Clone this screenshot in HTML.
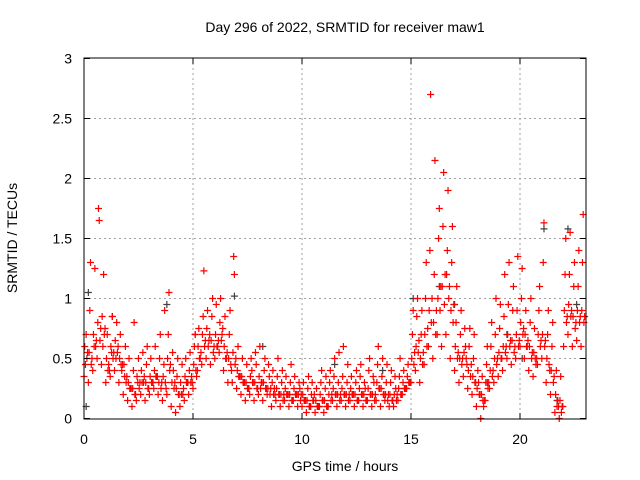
<!DOCTYPE html>
<html><head><meta charset="utf-8"><style>
body{margin:0;background:#fff;}
svg{display:block;font-family:"Liberation Sans",sans-serif;}
</style></head><body>
<svg id="chart" width="640" height="480" viewBox="0 0 640 480" xmlns="http://www.w3.org/2000/svg">
<rect width="640" height="480" fill="#fff"/>
<text x="345" y="32" font-size="14" text-anchor="middle">Day 296 of 2022, SRMTID for receiver maw1</text>
<g id="grid"></g>
<g id="points"></g>
<rect x="84" y="58" width="502" height="361" fill="none" stroke="#000" stroke-width="1"/>
<g id="ticks"></g>
<text x="345" y="471" font-size="14" text-anchor="middle">GPS time / hours</text>
<text x="0" y="0" font-size="14" text-anchor="middle" transform="translate(17,238) rotate(-90)">SRMTID / TECUs</text>
</svg>
<script>
const xTicks=[0,5,10,15,20];
const yTicks=[0,0.5,1,1.5,2,2.5,3];
const yTickLabels=["0","0.5","1","1.5","2","2.5","3"];
const binStart=0, binStep=0.2;
const seriesA=[.35,.3,.4,.5,.45,.3,.35,.4,.3,.2,.15,.1,.15,.2,.15,.2,.25,.2,.15,.2,.1,.05,.1,.15,.2,.25,.4,.45,.5,.45,.5,.55,.4,.3,.3,.25,.2,.15,.2,.15,.2,.15,.2,.1,.15,.1,.15,.1,.15,.1,.1,.05,.1,.05,.1,.05,.1,.15,.1,.15,.1,.15,.1,.15,.1,.15,.1,.15,.1,.15,.1,.1,.15,.2,.25,.3,.4,.3,.45,.6,.5,.7,.6,.7,.5,.4,.3,.35,.25,.2,.1,.0,.15,.25,.3,.35,.4,.5,.45,.5,.6,.5,.4,.35,.45,.5,.3,.2,.05,.0,.6,.7,.6,.65,.6];
const seriesB=[.6,.55,.7,.8,.85,.5,.6,.65,.5,.45,.3,.25,.35,.4,.3,.35,.4,.3,.35,.5,.3,.25,.3,.35,.4,.45,.6,.7,.75,.65,.7,.8,.6,.5,.55,.4,.35,.3,.35,.3,.35,.3,.25,.3,.25,.2,.25,.2,.25,.2,.2,.15,.2,.15,.2,.15,.2,.25,.2,.25,.2,.25,.2,.25,.2,.25,.2,.3,.25,.2,.2,.2,.25,.3,.35,.5,.6,.5,.7,.9,.8,1.0,1.1,1.2,.9,.6,.5,.55,.4,.35,.25,.2,.3,.4,.5,.55,.6,.7,.65,.7,.8,.7,.6,.55,.7,.7,.5,.4,.2,.15,.9,.95,.85,.9,.9];
const seriesC=[.45,.9,.6,1.75,.6,.7,.55,.5,.7,.35,.5,.4,.3,.3,.45,.5,.6,.5,.45,.7,.55,.35,.2,.5,.55,.6,.75,.85,.9,.85,.95,1.0,.85,.7,1.35,.6,.5,.45,.5,.55,.6,.4,.45,.4,.35,.3,.35,.3,.35,.3,.3,.25,.3,.25,.3,.25,.3,.35,.3,.35,.3,.35,.3,.35,.3,.4,.35,.45,.35,.3,.3,.35,.35,.4,.45,.7,.85,.7,1.0,1.4,1.2,1.5,1.6,1.4,1.3,.8,.7,.75,.6,.5,.4,.35,.45,.6,.7,.75,.85,.95,.9,.9,1.0,.9,.8,.75,.9,1.3,.7,.6,.4,.35,1.2,1.2,1.1,1.1,1.3];
const seriesD=[.7,1.3,1.25,1.65,1.2,.4,.85,.8,.45,.6,.25,.8,.5,.55,.6,.3,.35,.7,.9,1.05,.4,.5,.45,.3,.3,.7,.5,1.23,.6,1.0,.6,.65,.5,.9,1.2,.35,.3,.25,.4,.45,.25,.5,.35,.2,.5,.4,.2,.45,.2,.25,.15,.35,.15,.1,.4,.35,.4,.5,.55,.6,.45,.2,.4,.45,.25,.5,.3,.6,.5,.45,.4,.25,.5,.25,.3,.9,1.0,.9,1.3,2.7,2.15,1.75,2.05,1.9,1.6,1.1,.9,.6,.75,.7,.3,.15,.6,.8,1.0,.95,1.2,1.3,1.1,1.35,1.25,.6,1.0,.5,1.1,1.63,.9,.8,.1,.05,1.5,1.55,1.3,1.4,1.7];
const seriesE=[.5,.45,.6,.65,.7,.45,.5,.55,.4,.3,.25,.2,.25,.3,.25,.3,.35,.25,.3,.4,.25,.2,.2,.3,.35,.4,.5,.6,.65,.55,.6,.7,.5,.45,.45,.35,.3,.25,.3,.25,.3,.25,.2,.25,.2,.15,.2,.15,.2,.15,.15,.1,.15,.1,.15,.1,.15,.2,.15,.2,.15,.2,.15,.2,.15,.2,.15,.25,.2,.15,.15,.15,.2,.25,.3,.45,.55,.45,.6,.8,.7,.9,.95,1.0,.8,.5,.45,.5,.35,.3,.2,.1,.25,.35,.45,.5,.55,.6,.55,.6,.7,.6,.5,.45,.6,.6,.45,.3,.15,.1,.8,.85,.75,.8,.8];
const seriesF=[.55,.5,.65,.75,.75,.4,.55,.6,.45,.35,.25,.2,.3,.35,.25,.3,.35,.3,.25,.45,.3,.2,.25,.3,.3,.35,.55,.65,.7,.6,.65,.75,.55,.4,.5,.35,.3,.25,.3,.25,.3,.25,.25,.2,.2,.2,.2,.15,.2,.2,.15,.1,.2,.1,.15,.1,.2,.2,.2,.2,.2,.2,.15,.2,.15,.2,.2,.25,.2,.2,.15,.2,.2,.25,.3,.55,.65,.55,.75,1.0,.9,1.1,1.2,1.1,.95,.55,.5,.45,.45,.3,.2,.15,.3,.4,.5,.5,.6,.65,.6,.65,.75,.65,.55,.5,.65,.65,.4,.35,.1,.1,.85,.9,.8,.85,.85];
const grayT=[0.1,0.2,1.3,3.8,5.1,6.9,8.2,11.5,13.7,15.1,16.3,17.0,18.5,19.4,20.1,21.1,21.7,22.2,22.6];
const grayV=[0.1,1.05,0.85,0.95,0.7,1.02,0.6,0.45,0.4,1.0,1.1,0.95,0.3,0.7,0.5,1.58,0.15,1.58,0.95];
const NS="http://www.w3.org/2000/svg";
const X=t=>84+t*21.8, Y=v=>418.5-v*120;
const grid=document.getElementById('grid'), tk=document.getElementById('ticks'), pts=document.getElementById('points');
function line(g,x1,y1,x2,y2,st,dash){const l=document.createElementNS(NS,'line');l.setAttribute('x1',x1);l.setAttribute('y1',y1);l.setAttribute('x2',x2);l.setAttribute('y2',y2);l.setAttribute('stroke',st);if(dash)l.setAttribute('stroke-dasharray',dash);g.appendChild(l);return l;}
function txt(s,x,y,a){const e=document.createElementNS(NS,'text');e.setAttribute('x',x);e.setAttribute('y',y);e.setAttribute('font-size','14');e.setAttribute('text-anchor',a);e.textContent=s;tk.appendChild(e);return e;}
xTicks.forEach(t=>{
 if(t>0){const g=line(grid,X(t),58,X(t),419,'#a0a0a0','2,3');
 
 }
 line(tk,X(t),419,X(t),413,'#000');line(tk,X(t),58,X(t),64,'#000');
 const e=txt(String(t),X(t),444,'middle');
 
 
});
yTicks.forEach((v,i)=>{
 if(v>0&&v<3){const g=line(grid,84,Y(v),586,Y(v),'#a0a0a0','2,3');
 
 }
 line(tk,84,Y(v),90,Y(v),'#000');line(tk,586,Y(v),580,Y(v),'#000');
 const e=txt(yTickLabels[i],72,Y(v)+5,'end');
 
 
});
function plus(t,v,col){const p=document.createElementNS(NS,'path');const x=X(t),y=Y(v);
 p.setAttribute('d',`M${x-3.5},${y}H${x+3.5}M${x},${y-3.5}V${y+3.5}`);p.setAttribute('stroke',col);p.setAttribute('stroke-width','1.2');
 
 
 pts.appendChild(p);}
grayT.forEach((t,i)=>plus(t,grayV[i],'#404040'));
[seriesA,seriesB,seriesC,seriesD,seriesE,seriesF].forEach((s,k)=>{
 s.forEach((v,i)=>{plus(binStart+i*binStep+k*0.033,v,'#ff0000');});
});
</script>
</body></html>
